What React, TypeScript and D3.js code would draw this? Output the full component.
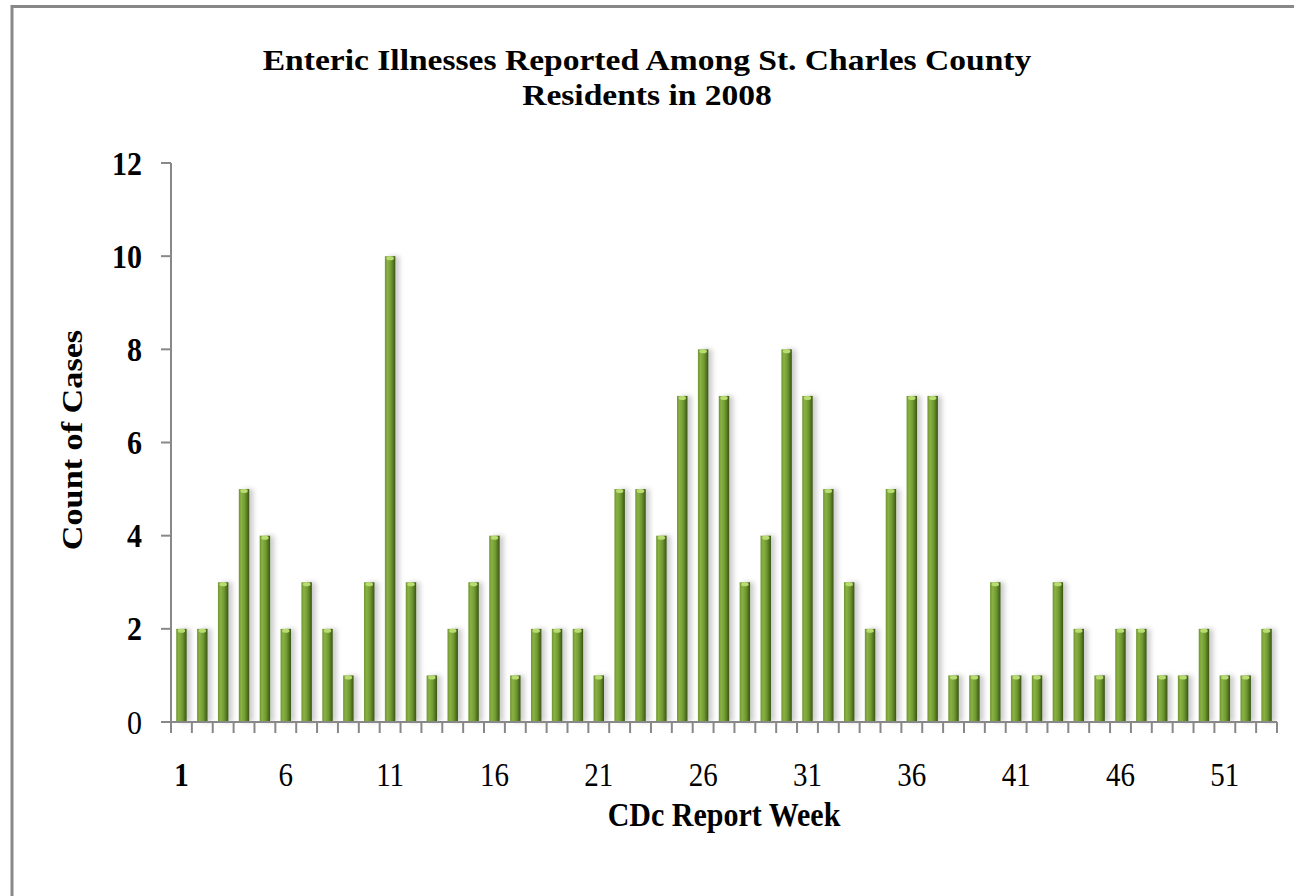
import { useEffect, useRef } from 'react'
import * as d3 from 'd3'

const weeks = d3.range(1, 54)
const cases = [
  2, 2, 3, 5, 4, 2, 3, 2, 1, 3,
  10, 3, 1, 2, 3, 4, 1, 2, 2, 2,
  1, 5, 5, 4, 7, 8, 7, 3, 4, 8,
  7, 5, 3, 2, 5, 7, 7, 1, 1, 3,
  1, 1, 3, 2, 1, 2, 2, 1, 1, 2,
  1, 1, 2,
]
const yTicks = [0, 2, 4, 6, 8, 10, 12]
const xTickLabels = [1, 6, 11, 16, 21, 26, 31, 36, 41, 46, 51]
const titleLines = ['Enteric Illnesses Reported Among St. Charles County', 'Residents in 2008']

const App = () => {
  const ref = useRef<SVGSVGElement>(null)

  useEffect(() => {
    const width = 1294
    const height = 896
    const left = 171
    const right = 1277
    const top = 163
    const bottom = 722
    const font = '"Liberation Serif", "Times New Roman", serif'
    // the original picture is a little stretched vertically
    const stretch = 1.14

    const svg = d3.select(ref.current)
    svg.selectAll('*').remove()
    svg.attr('width', width).attr('height', height)

    const defs = svg.append('defs')
    const grad = defs.append('linearGradient')
      .attr('id', 'barGrad')
      .attr('x1', 0).attr('x2', 1).attr('y1', 0).attr('y2', 0)
    grad.append('stop').attr('offset', '0%').attr('stop-color', '#6f9530')
    grad.append('stop').attr('offset', '25%').attr('stop-color', '#89b243')
    grad.append('stop').attr('offset', '60%').attr('stop-color', '#6f9831')
    grad.append('stop').attr('offset', '100%').attr('stop-color', '#3a5514')

    const shadow = defs.append('filter').attr('id', 'shadow')
      .attr('x', '-50%').attr('y', '-10%').attr('width', '250%').attr('height', '120%')
    shadow.append('feDropShadow')
      .attr('dx', 4).attr('dy', 0).attr('stdDeviation', 2.5)
      .attr('flood-color', '#000').attr('flood-opacity', 0.2)

    svg.append('rect')
      .attr('width', width).attr('height', height).attr('fill', '#fff')

    // outer frame
    svg.append('rect')
      .attr('x', 12).attr('y', 6.5)
      .attr('width', width + 20).attr('height', height + 20)
      .attr('fill', 'none').attr('stroke', '#888').attr('stroke-width', 3)

    const x = d3.scaleBand<number>()
      .domain(weeks)
      .range([left, right])
      .paddingInner(0.5)
      .paddingOuter(0.25)

    const y = d3.scaleLinear()
      .domain([0, 12])
      .range([bottom, top])

    // bars
    const bars = svg.append('g')
    bars.selectAll('rect.bar')
      .data(cases)
      .enter()
      .append('rect')
      .attr('class', 'bar')
      .attr('x', (d, i) => x(weeks[i])!)
      .attr('y', d => y(d))
      .attr('width', x.bandwidth())
      .attr('height', d => bottom - y(d))
      .attr('fill', 'url(#barGrad)')
      .attr('filter', 'url(#shadow)')

    bars.selectAll('ellipse.cap')
      .data(cases)
      .enter()
      .append('ellipse')
      .attr('class', 'cap')
      .attr('cx', (d, i) => x(weeks[i])! + x.bandwidth() / 2)
      .attr('cy', d => y(d) + 2)
      .attr('rx', x.bandwidth() / 2 - 1.5)
      .attr('ry', 2)
      .attr('fill', '#b9dc72')

    // y axis
    const axisColor = '#888'
    svg.append('line')
      .attr('x1', left).attr('x2', left)
      .attr('y1', top).attr('y2', bottom)
      .attr('stroke', axisColor).attr('stroke-width', 2)
    svg.selectAll('line.ytick')
      .data(yTicks)
      .enter()
      .append('line')
      .attr('class', 'ytick')
      .attr('x1', left - 10).attr('x2', left)
      .attr('y1', d => y(d)).attr('y2', d => y(d))
      .attr('stroke', axisColor).attr('stroke-width', 2)
    svg.selectAll('text.ylab')
      .data(yTicks)
      .enter()
      .append('text')
      .attr('class', 'ylab')
      .attr('transform', d => `translate(142, ${y(d) + 11.5}) scale(1, ${stretch})`)
      .attr('text-anchor', 'end')
      .attr('font-family', font)
      .attr('font-size', 30)
      .attr('font-weight', d => (d === 0 ? 'normal' : 'bold'))
      .text(d => d)

    // x axis
    svg.append('line')
      .attr('x1', left - 10).attr('x2', right)
      .attr('y1', bottom).attr('y2', bottom)
      .attr('stroke', axisColor).attr('stroke-width', 2)
    const bounds = weeks.map(w => x(w)! - (x.step() - x.bandwidth()) / 2).concat([right])
    svg.selectAll('line.xtick')
      .data(bounds)
      .enter()
      .append('line')
      .attr('class', 'xtick')
      .attr('x1', d => d).attr('x2', d => d)
      .attr('y1', bottom).attr('y2', bottom + 11)
      .attr('stroke', axisColor).attr('stroke-width', 2)
    svg.selectAll('text.xlab')
      .data(xTickLabels)
      .enter()
      .append('text')
      .attr('class', 'xlab')
      .attr('transform', d => `translate(${x(d)! + x.bandwidth() / 2}, 786) scale(1, ${stretch})`)
      .attr('text-anchor', 'middle')
      .attr('font-family', font)
      .attr('font-size', 29)
      .attr('font-weight', d => (d === 1 ? 'bold' : 'normal'))
      .text(d => d)

    // title, two lines
    svg.selectAll('text.title')
      .data(titleLines)
      .enter()
      .append('text')
      .attr('class', 'title')
      .attr('transform', (d, i) => `translate(647, ${70 + i * 34.5}) scale(1.1, 1)`)
      .attr('text-anchor', 'middle')
      .attr('font-family', font)
      .attr('font-size', 30.5)
      .attr('font-weight', 'bold')
      .text(d => d)

    svg.append('text')
      .attr('transform', `translate(82, 440) rotate(-90) scale(${stretch}, 1)`)
      .attr('text-anchor', 'middle')
      .attr('font-family', font)
      .attr('font-size', 30)
      .attr('font-weight', 'bold')
      .text('Count of Cases')

    svg.append('text')
      .attr('transform', `translate(724, 826) scale(1, ${stretch})`)
      .attr('text-anchor', 'middle')
      .attr('font-family', font)
      .attr('font-size', 30)
      .attr('font-weight', 'bold')
      .text('CDc Report Week')
  }, [])

  return (
    <svg ref={ref} style={{ position: 'fixed', left: 0, top: 0, display: 'block' }}></svg>
  )
}

export default App
